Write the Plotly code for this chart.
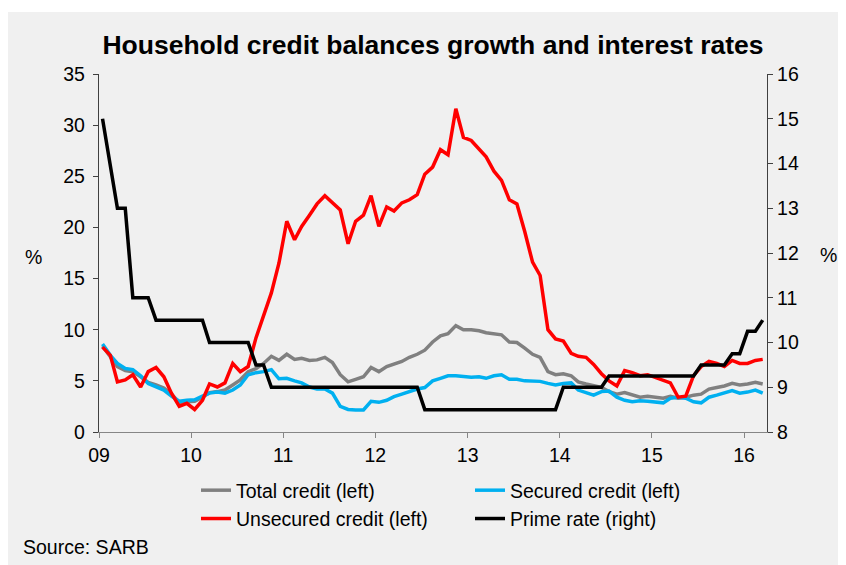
import plotly.graph_objects as go
import pandas as pd

start_month = "2009-01-01"
n_months = 87

total_credit = [8.4, 7.3, 6.4, 6.0, 5.9, 5.4, 4.85, 4.6, 4.3, 3.7, 2.9, 2.95,
                3.0, 3.4, 3.85, 3.95, 4.1, 4.6, 5.1, 5.9, 6.2, 6.7, 7.4, 7.0,
                7.6, 7.1, 7.2, 7.0, 7.05, 7.3, 6.8, 5.6, 4.9, 5.15, 5.4, 6.3,
                5.9, 6.4, 6.6, 6.9, 7.3, 7.6, 8.0, 8.8, 9.4, 9.6, 10.4, 10.0,
                10.0, 9.9, 9.7, 9.6, 9.5, 8.8, 8.75, 8.2, 7.6, 7.3, 5.9, 5.6,
                5.7, 5.5, 4.9, 4.7, 4.5, 4.35, 3.95, 3.7, 3.85, 3.6, 3.4, 3.5,
                3.4, 3.3, 3.5, 3.3, 3.4, 3.6, 3.7, 4.2, 4.35, 4.5, 4.75, 4.6,
                4.7, 4.85, 4.7]

secured_credit = [8.6, 7.5, 6.7, 6.2, 6.1, 5.5, 4.75, 4.4, 4.1, 3.5, 3.0, 3.1,
                  3.15, 3.5, 3.8, 3.9, 3.8, 4.1, 4.6, 5.6, 5.8, 5.9, 6.1, 5.2,
                  5.25, 5.0, 4.8, 4.4, 4.2, 4.2, 3.8, 2.5, 2.2, 2.15, 2.15, 3.0,
                  2.9, 3.1, 3.45, 3.7, 3.95, 4.2, 4.35, 5.0, 5.25, 5.5, 5.5, 5.4,
                  5.35, 5.4, 5.25, 5.5, 5.6, 5.15, 5.15, 5.0, 5.0, 4.95, 4.75, 4.6,
                  4.75, 4.8, 4.1, 3.8, 3.6, 3.95, 4.0, 3.4, 3.1, 2.95, 3.05, 3.0,
                  2.9, 2.85, 3.3, 3.4, 3.3, 2.95, 2.85, 3.4, 3.6, 3.85, 4.05, 3.8,
                  3.9, 4.1, 3.8]

unsecured_credit = [8.3, 7.5, 4.9, 5.1, 5.6, 4.4, 5.9, 6.3, 5.4, 3.8, 2.5, 2.8,
                    2.2, 3.1, 4.7, 4.4, 4.8, 6.7, 5.9, 6.4, 9.2, 11.3, 13.6, 16.5,
                    20.6, 18.8, 20.1, 21.2, 22.3, 23.1, 22.4, 21.7, 18.4, 20.6, 21.2, 23.1,
                    20.1, 22.0, 21.6, 22.4, 22.7, 23.2, 25.2, 25.9, 27.6, 27.1, 31.6, 28.8,
                    28.5, 27.7, 26.9, 25.5, 24.6, 22.7, 22.3, 19.6, 16.6, 15.3, 10.0, 9.1,
                    8.9, 7.7, 7.4, 7.3, 6.6, 5.7, 5.0, 4.5, 6.0, 5.8, 5.5, 5.6,
                    5.3, 5.0, 4.8, 3.4, 3.5, 5.5, 6.4, 6.9, 6.7, 6.4, 7.0, 6.7,
                    6.7, 7.0, 7.1]

prime_rate = [15.0, 14.0, 13.0, 13.0, 11.0, 11.0, 11.0, 10.5, 10.5, 10.5, 10.5, 10.5,
              10.5, 10.5, 10.0, 10.0, 10.0, 10.0, 10.0, 10.0, 9.5, 9.5, 9.0, 9.0,
              9.0, 9.0, 9.0, 9.0, 9.0, 9.0, 9.0, 9.0, 9.0, 9.0, 9.0, 9.0,
              9.0, 9.0, 9.0, 9.0, 9.0, 9.0, 8.5, 8.5, 8.5, 8.5, 8.5, 8.5,
              8.5, 8.5, 8.5, 8.5, 8.5, 8.5, 8.5, 8.5, 8.5, 8.5, 8.5, 8.5,
              9.0, 9.0, 9.0, 9.0, 9.0, 9.0, 9.25, 9.25, 9.25, 9.25, 9.25, 9.25,
              9.25, 9.25, 9.25, 9.25, 9.25, 9.25, 9.5, 9.5, 9.5, 9.5, 9.75, 9.75,
              10.25, 10.25, 10.5]

year_ticks = ["2009-01-01", "2010-01-01", "2011-01-01", "2012-01-01",
              "2013-01-01", "2014-01-01", "2015-01-01", "2016-01-01"]
year_labels = ["09", "10", "11", "12", "13", "14", "15", "16"]
left_ticks = [0, 5, 10, 15, 20, 25, 30, 35]
right_ticks = [8, 9, 10, 11, 12, 13, 14, 15, 16]

dates = pd.date_range(start_month, periods=n_months, freq="MS") + pd.Timedelta(days=14)

FONT = "Liberation Sans, Arial, sans-serif"
OFF = 8  # page body margin
W, H = 838, 557
PL, PR, PT, PB = 99, 767, 74, 432  # plot area in page pixels
ML, MT = PL - OFF, PT - OFF
MR = W - (PR - OFF)
MB = H - (PB - OFF)
PW, PH = PR - PL, PB - PT


def px_x(p):
    return (p - PL) / PW


def px_y(p):
    return (PB - p) / PH


fig = go.Figure()
fig.add_trace(go.Scatter(x=dates, y=total_credit, name="Total credit (left)",
                         mode="lines", line=dict(color="#808080", width=3.5)))
fig.add_trace(go.Scatter(x=dates, y=secured_credit, name="Secured credit (left)",
                         mode="lines", line=dict(color="#00b0f0", width=3.5)))
fig.add_trace(go.Scatter(x=dates, y=unsecured_credit, name="Unsecured credit (left)",
                         mode="lines", line=dict(color="#ff0000", width=3.5)))
fig.add_trace(go.Scatter(x=dates, y=prime_rate, name="Prime rate (right)",
                         mode="lines", line=dict(color="#000000", width=3.5),
                         yaxis="y2"))

fig.update_layout(
    width=W, height=H,
    margin=dict(l=ML, r=MR, t=MT, b=MB),
    paper_bgcolor="white",
    plot_bgcolor="rgba(0,0,0,0)",
    font=dict(family=FONT, size=19.5, color="black"),
    title=dict(text="<b>Household credit balances growth and interest rates</b>",
               x=0.5, xref="paper", xanchor="center",
               y=1 - (45 - OFF) / H, yref="container", yanchor="middle",
               font=dict(family=FONT, size=26.5, color="black")),
    xaxis=dict(type="date", range=["2009-01-01", "2016-04-01"],
               tickvals=year_ticks, ticktext=year_labels,
               showgrid=False, zeroline=False,
               showline=True, linecolor="#868686", linewidth=1.3,
               ticks="outside", ticklen=5, tickcolor="#868686", tickwidth=1.3),
    yaxis=dict(range=[0, 35], tickvals=left_ticks, showgrid=False, zeroline=False,
               showline=True, linecolor="#404040", linewidth=1.3,
               ticks="outside", ticklen=5, tickcolor="#404040", tickwidth=1.3,
               ticklabelstandoff=4),
    yaxis2=dict(range=[8, 16], tickvals=right_ticks, overlaying="y", side="right",
                showgrid=False, zeroline=False,
                showline=True, linecolor="#404040", linewidth=1.3,
                ticks="outside", ticklen=5, tickcolor="#404040", tickwidth=1.3),
    legend=dict(orientation="h", x=px_x(196), xanchor="left",
                y=px_y(471), yanchor="top",
                entrywidth=229, entrywidthmode="pixels",
                bgcolor="rgba(0,0,0,0)", font=dict(family=FONT, size=19.5),
                traceorder="normal"),
    showlegend=True,
)

fig.add_shape(type="rect", xref="paper", yref="paper",
              x0=px_x(0), x1=px_x(840), y0=px_y(566), y1=px_y(12),
              fillcolor="#f0f0f0", line=dict(width=0), layer="below")

fig.add_annotation(text="%", xref="paper", yref="paper", x=px_x(33), y=px_y(257),
                   showarrow=False, xanchor="center", yanchor="middle",
                   font=dict(family=FONT, size=19.5))
fig.add_annotation(text="%", xref="paper", yref="paper", x=px_x(829), y=px_y(255),
                   showarrow=False, xanchor="center", yanchor="middle",
                   font=dict(family=FONT, size=19.5))
fig.add_annotation(text="Source: SARB", xref="paper", yref="paper", x=px_x(21), y=px_y(547),
                   showarrow=False, xanchor="left", yanchor="middle",
                   font=dict(family=FONT, size=19.5))

fig.write_html("out.html")
